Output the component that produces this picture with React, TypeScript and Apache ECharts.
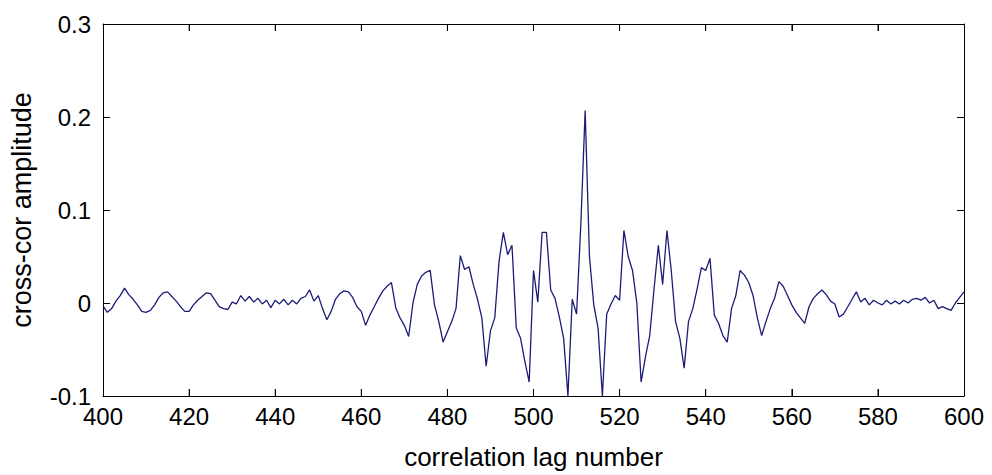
import React, { useEffect, useRef } from "react";
import * as echarts from "echarts";

const lagStart = 400;
const xTicks = [400, 420, 440, 460, 480, 500, 520, 540, 560, 580, 600];
const yTicks = [-0.1, 0, 0.1, 0.2, 0.3];
const xTitle = "correlation lag number";
const yTitle = "cross-cor amplitude";

// cross-correlation amplitude for lags 400..600
const amp400 = [
  -0.003, -0.010, -0.006, 0.002, 0.008, 0.016, 0.009, 0.004, -0.002, -0.009,
  -0.010, -0.008, -0.002, 0.006, 0.011, 0.012, 0.007, 0.002, -0.004, -0.009,
];
const amp420 = [
  -0.009, -0.002, 0.003, 0.007, 0.011, 0.010, 0.003, -0.004, -0.006, -0.007,
  0.001, -0.001, 0.008, 0.002, 0.007, 0.001, 0.005, -0.001, 0.003, -0.005,
];
const amp440 = [
  0.003, -0.001, 0.004, -0.002, 0.003, -0.001, 0.005, 0.007, 0.014, 0.002,
  0.008, -0.006, -0.018, -0.009, 0.004, 0.010, 0.013, 0.012, 0.006, -0.004,
];
const amp460 = [
  -0.009, -0.024, -0.013, -0.004, 0.005, 0.013, 0.018, 0.022, -0.005, -0.016,
  -0.024, -0.036, 0.000, 0.020, 0.029, 0.033, 0.035, -0.002, -0.020, -0.042,
];
const amp480 = [
  -0.031, -0.020, -0.006, 0.051, 0.036, 0.039, 0.020, 0.004, -0.016, -0.068,
  -0.030, -0.016, 0.045, 0.076, 0.052, 0.062, -0.027, -0.038, -0.063, -0.085,
];
const amp500 = [
  0.035, 0.001, 0.076, 0.076, 0.014, 0.005, -0.015, -0.038, -0.100, 0.004,
  -0.012, 0.085, 0.207, 0.050, -0.002, -0.027, -0.100, -0.012, -0.001, 0.008,
];
const amp520 = [
  0.003, 0.078, 0.050, 0.035, 0.000, -0.085, -0.058, -0.035, 0.015, 0.062,
  0.020, 0.078, 0.035, -0.020, -0.038, -0.070, -0.020, -0.006, 0.015, 0.038,
];
const amp540 = [
  0.035, 0.048, -0.013, -0.022, -0.035, -0.042, -0.006, 0.008, 0.035, 0.030,
  0.022, 0.008, -0.016, -0.035, -0.020, -0.006, 0.005, 0.023, 0.018, 0.008,
];
const amp560 = [
  -0.002, -0.010, -0.016, -0.022, -0.004, 0.005, 0.010, 0.014, 0.009, 0.002,
  -0.001, -0.015, -0.012, -0.004, 0.004, 0.012, 0.001, 0.005, -0.002, 0.003,
];
const amp580 = [
  0.000, -0.002, 0.003, -0.001, 0.002, -0.001, 0.003, 0.000, 0.004, 0.005,
  0.003, 0.006, 0.000, 0.003, -0.006, -0.004, -0.006, -0.008, 0.000, 0.006,
  0.012,
];

const amplitudes = [
  ...amp400, ...amp420, ...amp440, ...amp460, ...amp480,
  ...amp500, ...amp520, ...amp540, ...amp560, ...amp580,
];

export default function App() {
  const ref = useRef<HTMLDivElement>(null);

  useEffect(() => {
    if (!ref.current) return;
    const chart = echarts.init(ref.current, null, { renderer: "svg" });
    const data = amplitudes.map((v, i) => [lagStart + i, v]);
    const font = "Arial, 'Liberation Sans', Helvetica, sans-serif";
    const fmtY = (v: number) => String(Number(v.toFixed(1)));
    const lineStyle = { color: "#000", width: 1 };
    const tick = { show: true, inside: true, length: 7, lineStyle };
    const yMin = yTicks[0];
    const yMax = yTicks[yTicks.length - 1];
    const innerTicks = xTicks.slice(1, -1);
    const tickSeries = (y: number, dir: number) => ({
      type: "scatter",
      data: innerTicks.map((v) => [v, y]),
      symbol: "rect",
      symbolSize: [1, 7],
      symbolOffset: [0, dir * 3.5],
      itemStyle: { color: "#000" },
      silent: true,
      clip: false,
      z: 5,
    });
    chart.setOption({
      animation: false,
      backgroundColor: "#ffffff",
      grid: { left: 100, right: 28, top: 24, bottom: 77, containLabel: false },
      xAxis: [
        {
          type: "value",
          min: xTicks[0],
          max: xTicks[xTicks.length - 1],
          interval: 20,
          position: "bottom",
          name: xTitle,
          nameLocation: "middle",
          nameGap: 48,
          nameTextStyle: { fontSize: 26, color: "#000", fontFamily: font },
          axisLine: { show: true, onZero: false, lineStyle },
          axisTick: tick,
          splitLine: { show: false },
          axisLabel: { fontSize: 24, color: "#000", fontFamily: font, margin: 8 },
        },
        {
          type: "value",
          min: xTicks[0],
          max: xTicks[xTicks.length - 1],
          interval: 20,
          position: "top",
          axisLine: { show: true, onZero: false, lineStyle },
          axisTick: tick,
          splitLine: { show: false },
          axisLabel: { show: false },
        },
      ],
      yAxis: [
        {
          type: "value",
          min: yMin,
          max: yMax,
          interval: 0.1,
          position: "left",
          name: yTitle,
          nameLocation: "middle",
          nameGap: 68,
          nameRotate: 90,
          nameTextStyle: { fontSize: 27, color: "#000", fontFamily: font },
          axisLine: { show: true, onZero: false, lineStyle },
          axisTick: tick,
          splitLine: { show: false },
          axisLabel: { fontSize: 24, color: "#000", fontFamily: font, margin: 12, formatter: fmtY },
        },
        {
          type: "value",
          min: yMin,
          max: yMax,
          interval: 0.1,
          position: "right",
          axisLine: { show: true, onZero: false, lineStyle },
          axisTick: tick,
          splitLine: { show: false },
          axisLabel: { show: false },
        },
      ],
      series: [
        {
          type: "line",
          data,
          showSymbol: false,
          symbol: "none",
          lineStyle: { color: "#1c1c78", width: 1.3 },
          clip: true,
          z: 3,
        },
        tickSeries(yMin, -1),
        tickSeries(yMax, 1),
      ],
    });
    return () => chart.dispose();
  }, []);

  return <div ref={ref} style={{ width: 992, height: 475, position: "absolute", left: 0, top: 0, background: "#fff" }} />;
}
